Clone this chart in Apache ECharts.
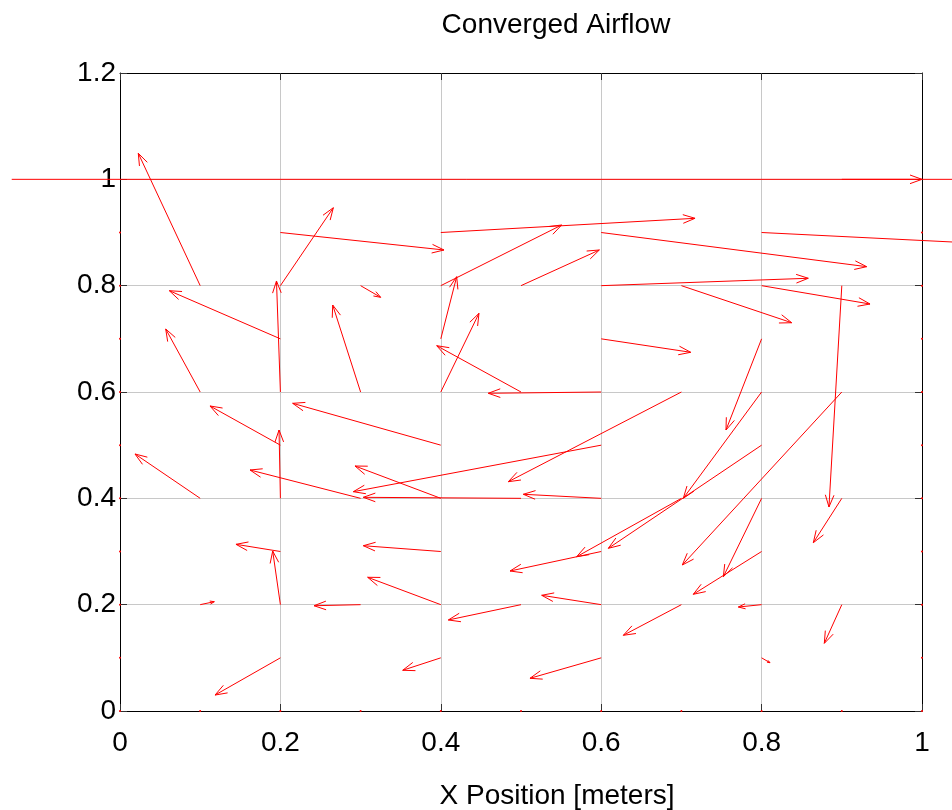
<!DOCTYPE html>
<html>
<head>
<meta charset="utf-8">
<title>Converged Airflow</title>
<script src="https://cdn.jsdelivr.net/npm/echarts@6/dist/echarts.min.js"></script>
<style>
  html, body { margin: 0; padding: 0; background: #fff; }
  #chart { width: 952px; height: 810px; }
</style>
</head>
<body>
<div id="chart"></div>
<script>
// grid of arrow tails
const xGrid = [0, 0.1, 0.2, 0.3, 0.4, 0.5, 0.6, 0.7, 0.8, 0.9, 1.0];
const yGrid = [0, 0.1, 0.2, 0.3, 0.4, 0.5, 0.6, 0.7, 0.8, 0.9];

// u and v per row (one row per yGrid value), null = no arrow drawn
const uRows = [
  [0, 0, 0, 0, 0, 0, 0, 0, 0, 0, 0],
  [0, null, -0.0815, null, -0.0475, null, -0.0888, null, 0.0105, null, 0],
  [0, 0.0176, -0.0096, -0.0581, -0.0912, -0.0906, -0.0742, -0.0724, -0.029, -0.0218, 0],
  [0, null, -0.0554, null, -0.0966, null, -0.1137, null, -0.0852, null, 0],
  [0, -0.0813, -0.0017, -0.1379, -0.107, -0.1966, -0.0971, -0.1306, -0.0477, -0.0355, 0],
  [0, null, -0.0878, null, -0.1847, null, -0.3091, null, -0.1911, null, 0],
  [0, -0.043, -0.0049, -0.0348, 0.0476, -0.1051, -0.1408, -0.2158, -0.0976, -0.1989, 0],
  [0, null, -0.1385, null, 0.0198, null, 0.1116, null, -0.0444, null, 0],
  [0, -0.0772, 0.066, 0.025, 0.1507, 0.0977, 0.2582, 0.1375, 0.1352, -0.016, 0],
  [0, null, 0.204, null, 0.317, null, 0.331, null, 0.36, null, 0]
];
const vRows = [
  [0, 0, 0, 0, 0, 0, 0, 0, 0, 0, 0],
  [0, null, -0.070, null, -0.0234, null, -0.0385, null, -0.0092, null, 0],
  [0, 0.0056, 0.1009, -0.002, 0.0515, -0.0288, 0.0176, -0.0576, -0.0044, -0.0727, 0],
  [0, null, 0.0135, null, 0.0109, null, -0.0367, null, -0.0805, null, 0],
  [0, 0.0834, 0.1285, 0.0533, 0.0608, 0.0019, 0.0076, -0.1098, -0.1474, -0.0834, 0],
  [0, null, 0.0737, null, 0.0787, null, -0.0875, null, -0.194, null, 0],
  [0, 0.1185, 0.2088, 0.1636, 0.148, 0.0871, -0.0024, -0.1687, -0.1999, -0.3254, 0],
  [0, null, 0.0905, null, 0.1169, null, -0.0253, null, -0.1715, null, 0],
  [0, 0.249, 0.1466, -0.0219, 0.1141, 0.0671, 0.0139, -0.0697, -0.0345, -0.4163, 0],
  [0, null, -0.0329, null, 0.0267, null, -0.0643, null, -0.027, null, 0]
];

// lid row (y = 1)
const lidY = 1.0;
const lidTailX = [-0.135, 0.9];
const lidU = [1.135, 1.135];

const arrows = [];
yGrid.forEach(function (y, i) {
  xGrid.forEach(function (x, j) {
    if (uRows[i][j] !== null) arrows.push([x, y, uRows[i][j], vRows[i][j]]);
  });
});
lidTailX.forEach(function (x, k) {
  arrows.push([x, lidY, lidU[k], 0]);
});

function renderArrow(params, api) {
  const x = api.value(0), y = api.value(1), u = api.value(2), v = api.value(3);
  const p0 = api.coord([x, y]);
  const p1 = api.coord([x + u, y + v]);
  const dx = p1[0] - p0[0], dy = p1[1] - p0[1];
  const len = Math.sqrt(dx * dx + dy * dy);
  if (len < 0.5) {
    return { type: 'circle', shape: { cx: p0[0], cy: p0[1], r: 1 }, style: { fill: '#ff0000' } };
  }
  const style = { stroke: '#ff0000', lineWidth: 1, fill: null };
  const h = Math.min(0.3 * len, 12);
  const ex = dx / len, ey = dy / len;
  const w = h * 0.36;
  const bx = p1[0] - ex * h, by = p1[1] - ey * h;
  return {
    type: 'group',
    children: [
      { type: 'line', shape: { x1: p0[0], y1: p0[1], x2: p1[0], y2: p1[1] }, style: style },
      { type: 'polyline', shape: { points: [[bx - ey * w, by + ex * w], p1, [bx + ey * w, by - ex * w]] }, style: style }
    ]
  };
}

const font = 'Liberation Sans, Arial, sans-serif';
const axisLine = { show: true, onZero: false, lineStyle: { color: '#000', width: 1 } };
const tick = { show: true, inside: true, length: 7, lineStyle: { color: '#333' } };

const chart = echarts.init(document.getElementById('chart'));
chart.setOption({
  animation: false,
  backgroundColor: '#fff',
  grid: { left: 120, right: 30, top: 73, bottom: 99 },
  xAxis: [
    {
      type: 'value', min: 0, max: 1, interval: 0.2, position: 'bottom',
      axisLine: axisLine, axisTick: tick,
      axisLabel: { color: '#000', fontSize: 28, fontFamily: font, margin: 18 },
      splitLine: { show: true, lineStyle: { color: '#c8c8c8', width: 1 } }
    },
    {
      type: 'value', min: 0, max: 1, interval: 0.2, position: 'top',
      axisLine: axisLine, axisTick: tick, axisLabel: { show: false }, splitLine: { show: false }
    }
  ],
  yAxis: [
    {
      type: 'value', min: 0, max: 1.2, interval: 0.2, position: 'left',
      axisLine: axisLine, axisTick: tick,
      axisLabel: { color: '#000', fontSize: 28, fontFamily: font, margin: 4 },
      splitLine: { show: true, lineStyle: { color: '#c8c8c8', width: 1 } }
    },
    {
      type: 'value', min: 0, max: 1.2, interval: 0.2, position: 'right',
      axisLine: axisLine, axisTick: tick, axisLabel: { show: false }, splitLine: { show: false }
    }
  ],
  graphic: [
    { type: 'text', x: 556, y: 25, style: { text: 'Converged Airflow', fontSize: 28, fontFamily: font, fill: '#000', align: 'center', verticalAlign: 'middle' } },
    { type: 'text', x: 557, y: 796, style: { text: 'X Position [meters]', fontSize: 28, fontFamily: font, fill: '#000', align: 'center', verticalAlign: 'middle' } }
  ],
  series: [
    {
      type: 'custom',
      clip: false,
      z: 10,
      renderItem: renderArrow,
      encode: { x: 0, y: 1 },
      data: arrows
    }
  ]
});
</script>
</body>
</html>
